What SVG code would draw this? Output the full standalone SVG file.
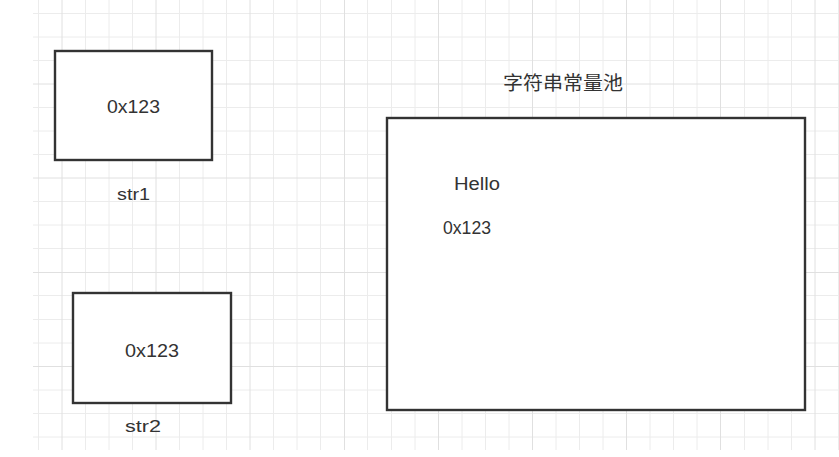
<svg xmlns="http://www.w3.org/2000/svg" width="839" height="457" viewBox="0 0 839 457">
<style>
.minor{stroke:#ececec;stroke-width:1;fill:none}
.major{stroke:#e0e0e0;stroke-width:1;fill:none}
.box{fill:#ffffff;stroke:#333333;stroke-width:2.4}
.t{font-family:"Liberation Sans","Noto Sans CJK SC",sans-serif;fill:#333333}
</style>
<rect x="0" y="0" width="839" height="457" fill="#ffffff"/>
<g id="grid">
<path class="minor" d="M38.5 0V450M85.5 0V450M109 0V450M132.5 0V450M179.5 0V450M203 0V450M226.5 0V450M273.5 0V450M297 0V450M320.5 0V450M367.5 0V450M391.5 0V450M415 0V450M462 0V450M485.5 0V450M509 0V450M556 0V450M579.5 0V450M603 0V450M650 0V450M673.5 0V450M697 0V450M744.5 0V450M768 0V450M791.5 0V450M838.5 0V450M33 13.5H839M33 37H839M33 60.5H839M33 107.5H839M33 131H839M33 154.5H839M33 201.5H839M33 225H839M33 248.5H839M33 295.5H839M33 319.5H839M33 343H839M33 390H839M33 413.5H839M33 437H839"/>
<path class="major" d="M62 0V450M156 0V450M250 0V450M344.5 0V450M438.5 0V450M532.5 0V450M626.5 0V450M720.5 0V450M815 0V450M33 84H839M33 178H839M33 272.5H839M33 366.5H839"/>
</g>
<g id="connectors"></g>
<g id="str1-box">
<rect class="box" x="55" y="51" width="157" height="109"/>
<text class="t" x="107" y="113" font-size="18" textLength="53" lengthAdjust="spacingAndGlyphs">0x123</text>
</g>
<g id="str1-label">
<text class="t" x="117" y="200" font-size="17" textLength="33" lengthAdjust="spacingAndGlyphs">str1</text>
</g>
<g id="str2-box">
<rect class="box" x="73" y="293" width="158" height="110"/>
<text class="t" x="125" y="357" font-size="18" textLength="54" lengthAdjust="spacingAndGlyphs">0x123</text>
</g>
<g id="str2-label">
<text class="t" x="125" y="432" font-size="17" textLength="36" lengthAdjust="spacingAndGlyphs">str2</text>
</g>
<g id="pool-title">
<text class="t" x="503" y="89.5" font-size="19" textLength="120" lengthAdjust="spacingAndGlyphs">字符串常量池</text>
</g>
<g id="pool">
<rect class="box" x="387" y="118" width="418" height="292"/>
<text class="t" x="454" y="190" font-size="18" textLength="46" lengthAdjust="spacingAndGlyphs">Hello</text>
<text class="t" x="443" y="234" font-size="18" textLength="48" lengthAdjust="spacingAndGlyphs">0x123</text>
</g>
</svg>
